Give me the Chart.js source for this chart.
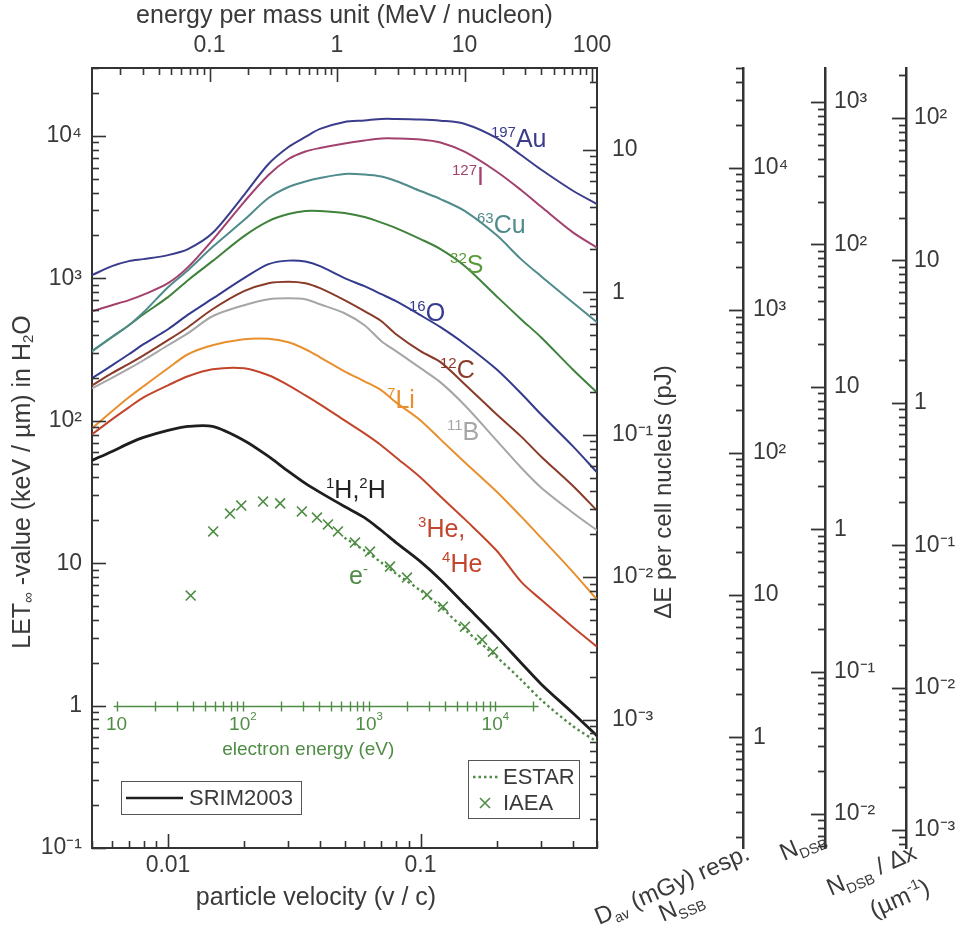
<!DOCTYPE html>
<html>
<head>
<meta charset="utf-8">
<title>LET in water vs particle velocity</title>
<script src="https://cdn.jsdelivr.net/npm/chart.js@4.4.1/dist/chart.umd.min.js"></script>
<style>
html,body{margin:0;padding:0;background:#ffffff;}
canvas{display:block;}
</style>
</head>
<body>
<canvas id="chart" width="960" height="943"></canvas>
<script>
// ---------- data ----------
// particle velocity grid (v / c)
const velocity = [0.005,0.006,0.007,0.008,0.01,0.012,0.015,0.02,0.025,0.03,0.035,0.04,0.05,0.06,0.07,0.08,0.1,0.12,0.15,0.2,0.25,0.3,0.4,0.5];
// LET_inf in H2O (keV / µm), SRIM2003
const letAu = [1053,1218,1321,1365,1456,1605,2079,3847,6356,8368,9838,11200,12540,12850,13170,13170,13060,12810,12140,9680,7350,5810,4140,3325];
const letI  = [588,648,703,768,925,1199,1856,3435,5317,6889,7780,8232,8857,9296,9603,9603,9449,9001,7718,5627,4172,3193,2113,1644];
const letCu = [308,389,469,578,867,1142,1658,2566,3664,4378,4786,5065,5404,5360,5190,4826,4104,3605,2968,2013,1365,1036,680,492];
const letS  = [308,386,469,560,738,971,1321,1980,2525,2828,2968,2968,2873,2694,2464,2254,1886,1605,1218,750,517,386,230,158];
const letO  = [199,245,293,345,439,556,720,1003,1258,1332,1311,1218,1003,881,774,691,551,454,345,230,156,111,66.6,43.4];
const letC  = [177,216,251,288,368,454,607,813,925,948,925,853,703,588,500,405,308,258,180,111,77.7,56.2,35.1,23.4];
const letB  = [169,200,232,266,339,412,542,648,714,726,714,658,569,469,362,308,234,186,128,72.8,47.0,34.0,22.7,17.0];
const letLi = [88.4,116.5,146.1,174.6,233.6,293.1,339,373.6,376.6,355.9,317.8,279.1,222.6,189.3,163.6,134.7,100.6,74.0,51.0,31.9,21.3,15.1,8.73,5.55];
const letHe = [80.2,102.3,124.2,146.1,177.4,205.2,229.8,233.6,208.6,177.4,150.8,130.4,100.6,81.5,67.1,55.3,40.0,29.4,20.3,12.27,7.42,5.55,3.58,2.59];
const letH  = [52.7,60.9,69.4,76.4,85.6,91.3,91.3,72.8,56.2,44.1,36.3,31.4,25.0,20.9,16.96,13.96,10.26,7.66,5.12,3.05,2.0,1.42,0.890,0.613];
// electrons: ESTAR (dotted) on the same velocity grid, IAEA (crosses)
const letEstar = [null,null,null,null,null,null,null,null,null,null,null,null,15.1,12.27,10.10,8.45,6.42,4.95,3.41,2.20,1.52,1.10,0.721,0.556];
const iaeaVelocity = [0.0123,0.0151,0.0176,0.0195,0.0238,0.0278,0.0339,0.0389,0.0430,0.0471,0.0550,0.0631,0.0757,0.0884,0.1061,0.1227,0.1500,0.1753,0.1937];
const iaeaLET = [5.92,16.7,22.3,25.4,27.1,26.3,23.1,20.9,18.7,16.7,13.96,12.06,9.46,7.92,6.01,4.95,3.58,2.90,2.39];

// axis ranges
const velocityRange = [0.005, 0.5];
const letRange = [0.1, 30000];
const energyPerNucleonRange = [0.01198, 109.4];      // MeV / nucleon (top axis)
const dERange = [Math.pow(10,-3.902), Math.pow(10,1.575)];      // pJ per cell nucleus
const doseRange = [Math.pow(10,-0.777), Math.pow(10,4.700)];    // D_av (mGy) resp. N_SSB
const nDsbRange = [Math.pow(10,-2.239), Math.pow(10,3.239)];    // N_DSB
const nDsbDxRange = [Math.pow(10,-3.126), Math.pow(10,2.351)];  // N_DSB / dx (1/µm)

// electron energy axis (eV), drawn at LET = 1
const electronAxisLET = 1;
const electronAxisSpan = [9.5, 22000];
const electronTickEnergies = [10,20,30,40,50,60,70,80,90,100,200,300,400,500,600,700,800,900,1000,2000,3000,4000,5000,6000,7000,8000,9000,10000,20000];
const electronTickLabels = [[10,'10',''],[100,'10','2'],[1000,'10','3'],[10000,'10','4']];
const ELECTRON_HALF_REST_EV = 255500; // E = 1/2 m_e c^2 (v/c)^2

// ---------- styling ----------
const FAM = '"Liberation Sans", Arial, Helvetica, sans-serif';
const TXT = '#3a3a3a';
const AX = '#333333';
const EGREEN = '#4f8c45';
const COL = {
  Au:'#3b3d8c', I:'#a3416e', Cu:'#4f8b8b', S:'#3f823c', O:'#343a8e', C:'#8a3a28',
  B:'#a6a6a6', Li:'#e8902e', He:'#c2452b', H:'#1e1e1e'
};

const curveLabels = [
  {parts:[['197',1],['Au',0]], v:0.190, l:8372, color:COL.Au},
  {parts:[['127',1],['I',0]], v:0.1333, l:4528, color:COL.I},
  {parts:[['63',1],['Cu',0]], v:0.1673, l:2084, color:COL.Cu},
  {parts:[['32',1],['S',0]], v:0.1309, l:1091, color:'#5a9a3a'},
  {parts:[['16',1],['O',0]], v:0.0900, l:502, color:COL.O},
  {parts:[['12',1],['C',0]], v:0.1194, l:200, color:COL.C},
  {parts:[['7',1],['Li',0]], v:0.0737, l:123, color:COL.Li},
  {parts:[['11',1],['B',0]], v:0.1273, l:73.3, color:COL.B},
  {parts:[['1',1],['H,',0],['2',1],['H',0]], v:0.04225, l:28.7, color:'#222'},
  {parts:[['3',1],['He,',0]], v:0.0978, l:15.3, color:COL.He},
  {parts:[['4',1],['He',0]], v:0.1217, l:8.68, color:COL.He},
  {parts:[['e',0],['-',1]], v:0.0521, l:7.14, color:EGREEN}
];

// ---------- helpers ----------
const SUP = {'-':'\u207B','0':'\u2070','1':'\u00B9','2':'\u00B2','3':'\u00B3','4':'\u2074','5':'\u2075','6':'\u2076','7':'\u2077','8':'\u2078','9':'\u2079'};
function isPow10(v){ const l = Math.log10(v); return Math.abs(l - Math.round(l)) < 1e-6; }
function powLabel(v){
  if (!isPow10(v)) return '';
  const e = Math.round(Math.log10(v));
  if (e === 0) return '1';
  if (e === 1) return '10';
  return '10' + String(e).split('').map(c => SUP[c]).join('');
}
function decLabel(v){
  if (!isPow10(v)) return '';
  const e = Math.round(Math.log10(v));
  return e < 0 ? v.toFixed(-e) : String(Math.round(v));
}
function genLogTicks(min, max){
  const t = [];
  const e0 = Math.floor(Math.log10(min)) - 1, e1 = Math.ceil(Math.log10(max)) + 1;
  for (let e = e0; e <= e1; e++) {
    for (let k = 1; k <= 9; k++) {
      const v = Number((k * Math.pow(10, e)).toPrecision(10));
      if (v >= min * (1 - 1e-9) && v <= max * (1 + 1e-9)) t.push({value: v, major: k === 1});
    }
  }
  return t;
}
function drawRich(ctx, parts, x, y, o){
  const size = o.size, ss = o.supScale || 0.6;
  ctx.save();
  ctx.translate(x, y);
  if (o.rot) ctx.rotate(o.rot);
  ctx.textBaseline = o.baseline || 'alphabetic';
  ctx.textAlign = 'left';
  ctx.fillStyle = o.color;
  let w = 0;
  const segs = parts.map(p => {
    const s = p[1] ? size * ss : size;
    ctx.font = s + 'px ' + FAM;
    const wd = ctx.measureText(p[0]).width;
    w += wd;
    return {t: p[0], s: s, wd: wd, m: p[1]};
  });
  let cx = o.align === 'center' ? -w / 2 : (o.align === 'right' ? -w : 0);
  segs.forEach(g => {
    ctx.font = g.s + 'px ' + FAM;
    const dy = g.m === 1 ? -size * 0.4 : (g.m === -1 ? size * 0.22 : 0);
    ctx.fillText(g.t, cx, dy);
    cx += g.wd;
  });
  ctx.restore();
}

function logAxis(id, extra){
  const base = {
    type: 'logarithmic',
    bounds: 'data',
    grid: {display: true, drawOnChartArea: false, drawTicks: false, color: 'rgba(0,0,0,0)'},
    border: {display: true, color: AX, width: 2},
    ticks: {autoSkip: false, maxRotation: 0, minRotation: 0, font: {size: 23, family: FAM}, color: TXT, padding: 10, callback: v => powLabel(v)},
    afterBuildTicks: ax => { ax.ticks = genLogTicks(ax.min, ax.max); }
  };
  const out = Object.assign({}, base, extra);
  out.ticks = Object.assign({}, base.ticks, extra.ticks || {});
  out.border = Object.assign({}, base.border, extra.border || {});
  return out;
}

// ---------- datasets ----------
function curve(label, arr, color, width, extra){
  return Object.assign({
    type: 'line', label: label,
    data: velocity.map((v, i) => ({x: v, y: arr[i]})),
    borderColor: color, backgroundColor: color, borderWidth: width,
    pointRadius: 0, tension: 0.3, fill: false,
    borderJoinStyle: 'round', borderCapStyle: 'butt',
    xAxisID: 'x', yAxisID: 'y'
  }, extra || {});
}
const datasets = [
  curve('197Au', letAu, COL.Au, 2),
  curve('127I', letI, COL.I, 2),
  curve('63Cu', letCu, COL.Cu, 2),
  curve('32S', letS, COL.S, 2),
  curve('16O', letO, COL.O, 2),
  curve('12C', letC, COL.C, 2),
  curve('11B', letB, COL.B, 2),
  curve('7Li', letLi, COL.Li, 2),
  curve('3He, 4He', letHe, COL.He, 2),
  curve('1H, 2H (SRIM2003)', letH, COL.H, 2.8),
  curve('ESTAR', letEstar, EGREEN, 2.4, {borderDash: [2.5, 3], spanGaps: false}),
  {
    type: 'line', label: 'IAEA', showLine: false,
    data: iaeaVelocity.map((v, i) => ({x: v, y: iaeaLET[i]})),
    borderColor: EGREEN, backgroundColor: EGREEN,
    pointStyle: 'crossRot', pointRadius: 7, pointBorderWidth: 1.6, pointBorderColor: EGREEN,
    xAxisID: 'x', yAxisID: 'y'
  }
];

// ---------- decoration plugin ----------
const decor = {
  id: 'decor',
  afterDraw(chart){
    const {ctx, chartArea: a, scales} = chart;
    ctx.save();
    // inward tick marks
    ctx.strokeStyle = AX; ctx.lineWidth = 1.6;
    const MAJ = 14, MIN = 7;
    const vTicks = (sc, x0, dir) => {
      sc.ticks.forEach(t => {
        const y = Math.round(sc.getPixelForValue(t.value)) + 0.5;
        if (y < a.top - 1 || y > a.bottom + 1) return;
        const L = isPow10(t.value) ? MAJ : MIN;
        ctx.beginPath(); ctx.moveTo(x0, y); ctx.lineTo(x0 + dir * L, y); ctx.stroke();
      });
    };
    const hTicks = (sc, y0, dir) => {
      sc.ticks.forEach(t => {
        const x = Math.round(sc.getPixelForValue(t.value)) + 0.5;
        if (x < a.left - 1 || x > a.right + 1) return;
        const L = isPow10(t.value) ? MAJ : MIN;
        ctx.beginPath(); ctx.moveTo(x, y0); ctx.lineTo(x, y0 + dir * L); ctx.stroke();
      });
    };
    hTicks(scales.x, a.bottom, -1);
    hTicks(scales.xTop, a.top, 1);
    vTicks(scales.y, a.left, 1);
    vTicks(scales.yE, a.right, -1);
    ctx.lineWidth = 1.8;
    vTicks(scales.yD, scales.yD.left, -1);
    vTicks(scales.yN, scales.yN.left, -1);
    vTicks(scales.yNx, scales.yNx.left, -1);

    // electron energy axis
    const ey = Math.round(scales.y.getPixelForValue(electronAxisLET)) + 0.5;
    const ex = E => scales.x.getPixelForValue(Math.sqrt(E / ELECTRON_HALF_REST_EV));
    ctx.strokeStyle = EGREEN; ctx.lineWidth = 1.4;
    ctx.beginPath(); ctx.moveTo(ex(electronAxisSpan[0]), ey); ctx.lineTo(ex(electronAxisSpan[1]), ey); ctx.stroke();
    electronTickEnergies.forEach(E => {
      const x = Math.round(ex(E)) + 0.5;
      ctx.beginPath(); ctx.moveTo(x, ey - 5); ctx.lineTo(x, ey + 5); ctx.stroke();
    });
    electronTickLabels.forEach(t => {
      const parts = t[2] ? [[t[1], 0], [t[2], 1]] : [[t[1], 0]];
      drawRich(ctx, parts, ex(t[0]), ey + 18, {size: 19, color: EGREEN, align: 'center', baseline: 'middle'});
    });
    drawRich(ctx, [['electron energy (eV)', 0]], ex(330), ey + 43, {size: 19, color: EGREEN, align: 'center', baseline: 'middle'});

    // curve labels
    curveLabels.forEach(l => {
      drawRich(ctx, l.parts, scales.x.getPixelForValue(l.v), scales.y.getPixelForValue(l.l), {size: 25, color: l.color});
    });

    // axis titles
    drawRich(ctx, [['particle velocity (v / c)', 0]], a.left + 224, a.bottom + 50, {size: 25, color: TXT, align: 'center', baseline: 'middle'});
    drawRich(ctx, [['LET', 0], ['\u221E', -1], [' -value (keV / \u00B5m) in H', 0], ['2', -1], ['O', 0]], 23, (a.top + a.bottom) / 2 + 24,
      {size: 25, color: TXT, align: 'center', baseline: 'middle', rot: -Math.PI / 2});
    drawRich(ctx, [['\u0394E per cell nucleus (pJ)', 0]], a.right + 67, a.top + 424,
      {size: 24, color: TXT, align: 'center', baseline: 'middle', rot: -Math.PI / 2});
    const R = -0.41;
    drawRich(ctx, [['D', 0], ['av', -1], [' (mGy) resp.', 0]], a.right + 2, a.bottom + 77, {size: 24, color: TXT, rot: R});
    drawRich(ctx, [['N', 0], ['SSB', -1]], a.right + 66, a.bottom + 74, {size: 24, color: TXT, rot: R});
    drawRich(ctx, [['N', 0], ['DSB', -1]], scales.yN.left - 41, scales.yN.bottom + 13, {size: 24, color: TXT, rot: R});
    drawRich(ctx, [['N', 0], ['DSB', -1], [' / \u0394x', 0]], scales.yNx.left - 75, scales.yNx.bottom + 48, {size: 24, color: TXT, rot: R});
    drawRich(ctx, [['(\u00B5m', 0], ['-1', 1], [')', 0]], scales.yNx.left - 32, scales.yNx.bottom + 70, {size: 24, color: TXT, rot: R});

    // legend boxes
    ctx.strokeStyle = '#555'; ctx.lineWidth = 1;
    const L1 = {x: a.left + 29, y: a.bottom - 67, w: 180, h: 33};
    ctx.strokeRect(L1.x + 0.5, L1.y + 0.5, L1.w, L1.h);
    ctx.strokeStyle = COL.H; ctx.lineWidth = 2.5;
    ctx.beginPath(); ctx.moveTo(L1.x + 5, L1.y + 17); ctx.lineTo(L1.x + 62, L1.y + 17); ctx.stroke();
    drawRich(ctx, [['SRIM2003', 0]], L1.x + 68, L1.y + 18, {size: 22, color: TXT, baseline: 'middle'});

    const L2 = {x: a.right - 129, y: a.bottom - 88, w: 111, h: 58};
    ctx.strokeStyle = '#555'; ctx.lineWidth = 1;
    ctx.strokeRect(L2.x + 0.5, L2.y + 0.5, L2.w, L2.h);
    ctx.strokeStyle = EGREEN; ctx.lineWidth = 2.4; ctx.setLineDash([2.5, 3]);
    ctx.beginPath(); ctx.moveTo(L2.x + 5, L2.y + 17); ctx.lineTo(L2.x + 32, L2.y + 17); ctx.stroke();
    ctx.setLineDash([]); ctx.lineWidth = 1.6;
    const cx = L2.x + 17, cy = L2.y + 43, r = 5;
    ctx.beginPath(); ctx.moveTo(cx - r, cy - r); ctx.lineTo(cx + r, cy + r); ctx.moveTo(cx + r, cy - r); ctx.lineTo(cx - r, cy + r); ctx.stroke();
    drawRich(ctx, [['ESTAR', 0]], L2.x + 35, L2.y + 18, {size: 22, color: TXT, baseline: 'middle'});
    drawRich(ctx, [['IAEA', 0]], L2.x + 35, L2.y + 44, {size: 22, color: TXT, baseline: 'middle'});
    ctx.restore();
  }
};

// ---------- chart ----------
Chart.defaults.font.family = FAM;
Chart.defaults.color = TXT;

new Chart(document.getElementById('chart'), {
  type: 'line',
  data: {datasets: datasets},
  options: {
    responsive: false,
    animation: false,
    events: [],
    layout: {padding: 0, autoPadding: false},
    plugins: {legend: {display: false}, tooltip: {enabled: false}},
    scales: {
      x: logAxis('x', {
        position: 'bottom', min: velocityRange[0], max: velocityRange[1],
        ticks: {padding: 4, callback: v => decLabel(v)},
        afterFit: s => { s.height = 95; }
      }),
      xTop: logAxis('xTop', {
        position: 'top', axis: 'x', min: energyPerNucleonRange[0], max: energyPerNucleonRange[1],
        ticks: {padding: 9, callback: v => decLabel(v)},
        title: {display: true, text: 'energy per mass unit (MeV / nucleon)', color: TXT, font: {size: 25, family: FAM}, padding: {top: 1, bottom: 0}},
        afterFit: s => { s.height = 68; }
      }),
      y: logAxis('y', {
        position: 'left', min: letRange[0], max: letRange[1],
        ticks: {padding: 10},
        afterFit: s => { s.width = 92; }
      }),
      yE: logAxis('yE', {
        position: 'right', axis: 'y', weight: 1, min: dERange[0], max: dERange[1],
        ticks: {padding: 15},
        afterFit: s => { s.width = 146; }
      }),
      yD: logAxis('yD', {
        position: 'right', axis: 'y', weight: 2, min: doseRange[0], max: doseRange[1],
        ticks: {padding: 10}, border: {width: 2.5},
        afterFit: s => { s.width = 82; }
      }),
      yN: logAxis('yN', {
        position: 'right', axis: 'y', weight: 3, min: nDsbRange[0], max: nDsbRange[1],
        ticks: {padding: 9}, border: {width: 2.5},
        afterFit: s => { s.width = 81; }
      }),
      yNx: logAxis('yNx', {
        position: 'right', axis: 'y', weight: 4, min: nDsbDxRange[0], max: nDsbDxRange[1],
        ticks: {padding: 8}, border: {width: 2.5},
        afterFit: s => { s.width = 54; }
      })
    }
  },
  plugins: [decor]
});
</script>
</body>
</html>
